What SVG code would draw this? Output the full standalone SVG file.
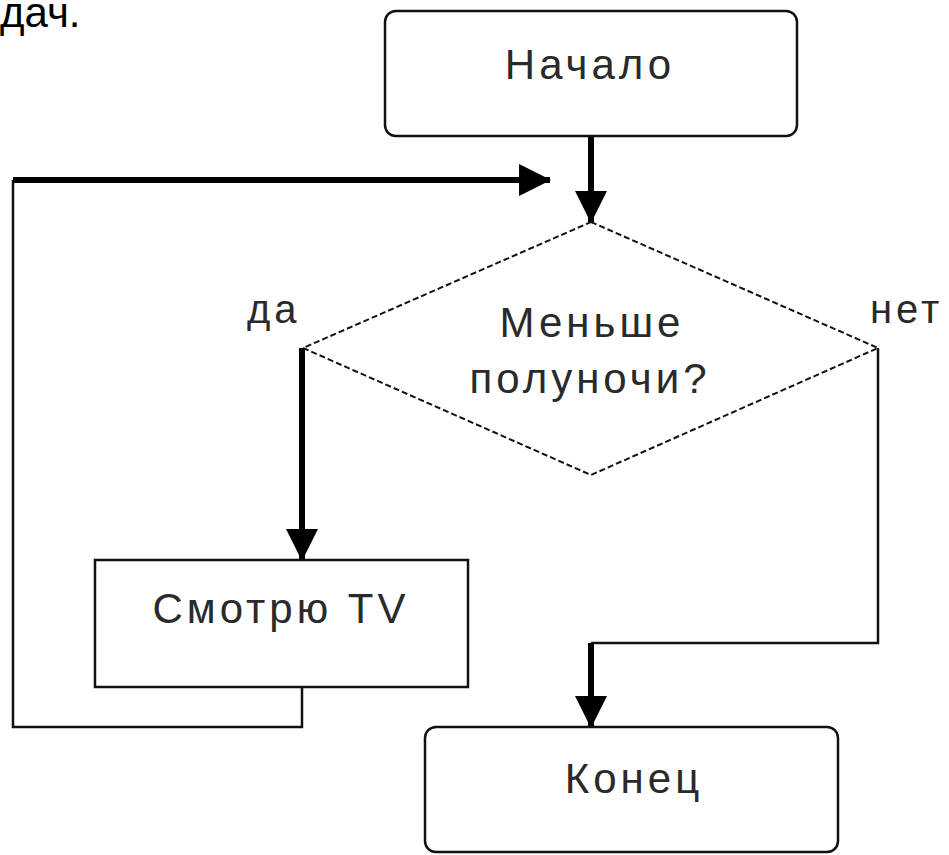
<svg xmlns="http://www.w3.org/2000/svg" width="949" height="855" viewBox="0 0 949 855">
<style>
.t{font-family:"Liberation Sans",Arial,sans-serif;font-size:42px;fill:#2a2a2a;letter-spacing:4px;text-anchor:middle}
.lbl{font-family:"Liberation Sans",Arial,sans-serif;font-size:40px;fill:#2a2a2a;letter-spacing:4px}
.box{fill:#fff;stroke:#111;stroke-width:2.5}
.thin{fill:none;stroke:#111;stroke-width:2.5}
.thick{fill:none;stroke:#000;stroke-width:6;marker-end:url(#ah)}
</style>
<defs>
<marker id="ah" markerUnits="userSpaceOnUse" markerWidth="32" markerHeight="32" viewBox="0 0 30 30" refX="29" refY="15" orient="auto">
<polygon points="0,0 30,15 0,30" fill="#000"/>
</marker>
</defs>
<rect width="949" height="855" fill="#fff"/>
<text x="0" y="27" style="font-family:'Liberation Sans',Arial,sans-serif;font-size:42px;fill:#000">дач.</text>
<g id="connectors">
<path class="thin" d="M302,687 V727 H13 V180"/>
<path class="thick" d="M13,180 H550"/>
<path class="thick" d="M591,136 V222"/>
<path class="thick" d="M302,348 V560"/>
<path class="thin" d="M878,348 V643 H591"/>
<path class="thick" d="M591,643 V727"/>
</g>
<g id="start">
<rect class="box" x="385" y="11" width="412" height="125" rx="11"/>
<text class="t" x="590" y="79">Начало</text>
</g>
<g id="decision">
<polygon points="591,222 878,348 591,475 303,348" fill="none" stroke="#111" stroke-width="2" stroke-dasharray="6 3"/>
<text class="t" x="592" y="337">Меньше</text>
<text class="t" x="590" y="393">полуночи?</text>
</g>
<g id="label-yes"><text class="lbl" x="247" y="323">да</text></g>
<g id="label-no"><text class="lbl" x="870" y="323">нет</text></g>
<g id="watch">
<rect class="box" x="95" y="560" width="373" height="127"/>
<text class="t" x="281" y="623">Смотрю TV</text>
</g>
<g id="end">
<rect class="box" x="425" y="727" width="413" height="125" rx="11"/>
<text class="t" x="634" y="793">Конец</text>
</g>
</svg>
